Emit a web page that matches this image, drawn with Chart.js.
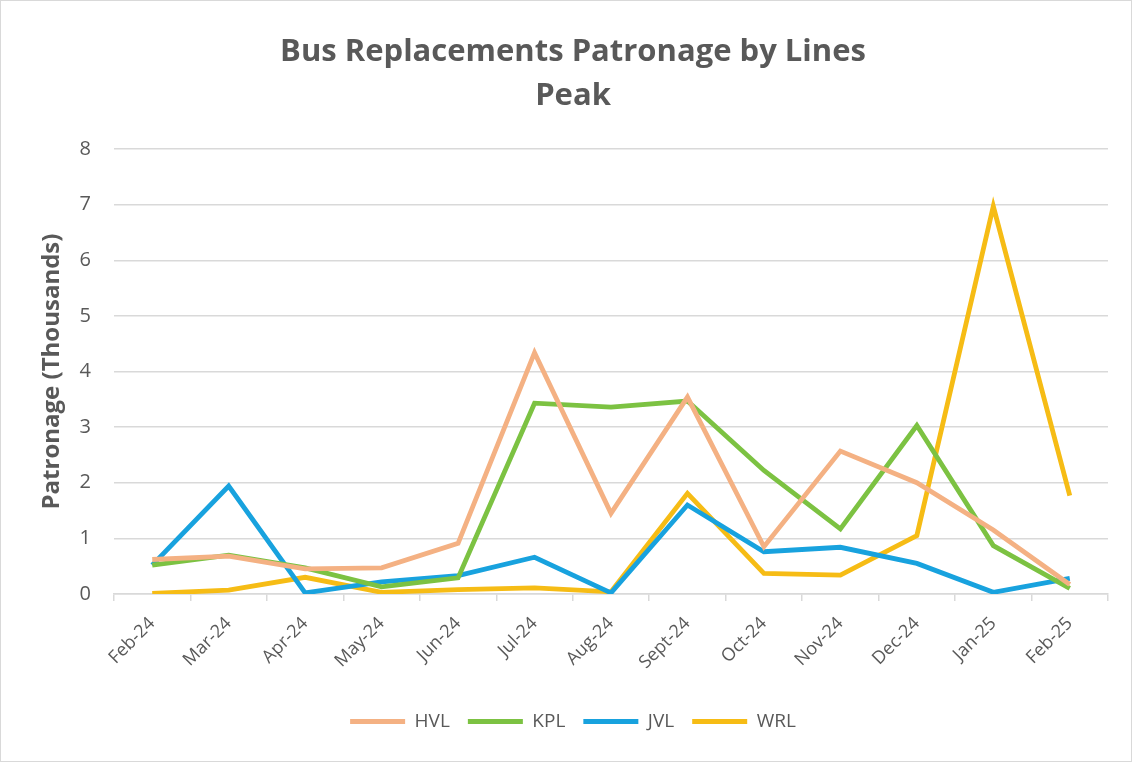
<!DOCTYPE html>
<html>
<head>
<meta charset="utf-8">
<script src="https://cdn.jsdelivr.net/npm/chart.js@4"></script>
<style>
  body { margin: 0; background: #fff; }
  #wrap { width: 1132px; height: 762px; box-sizing: border-box; border: 1px solid #d9d9d9; }
</style>
</head>
<body>
<div id="wrap"><canvas id="myChart"></canvas></div>
<script>
var months = ['Feb-24', 'Mar-24', 'Apr-24', 'May-24', 'Jun-24', 'Jul-24', 'Aug-24',
              'Sept-24', 'Oct-24', 'Nov-24', 'Dec-24', 'Jan-25', 'Feb-25'];
var hvl = [0.62, 0.68, 0.45, 0.47, 0.91, 4.34, 1.45, 3.54, 0.85, 2.57, 2.0, 1.15, 0.17];
var kpl = [0.52, 0.7, 0.47, 0.13, 0.29, 3.43, 3.36, 3.47, 2.22, 1.17, 3.03, 0.87, 0.1];
var jvl = [0.52, 1.94, 0.02, 0.22, 0.33, 0.66, 0.02, 1.6, 0.76, 0.84, 0.55, 0.03, 0.28];
var wrl = [0.01, 0.07, 0.3, 0.03, 0.08, 0.11, 0.04, 1.81, 0.37, 0.34, 1.05, 6.97, 1.77];
var yTicks = [0, 1, 2, 3, 4, 5, 6, 7, 8];

var textGray = '#595959';
var gridGray = '#d9d9d9';
var fontName = 'Open Sans';

function line(label, data, color) {
  return {
    label: label,
    data: data,
    borderColor: color,
    backgroundColor: color,
    borderWidth: 4.8,
    pointRadius: 0,
    tension: 0
  };
}

var ctx = document.getElementById('myChart').getContext('2d');
var myChart = new Chart(ctx, {
  type: 'line',
  data: {
    labels: months,
    datasets: [
      line('HVL', hvl, '#f4b183'),
      line('KPL', kpl, '#7cc242'),
      line('JVL', jvl, '#18a2de'),
      line('WRL', wrl, '#f6bc15')
    ]
  },
  options: {
    responsive: true,
    maintainAspectRatio: false,
    animation: false,
    layout: { padding: { left: 37, right: 23, top: 0, bottom: 20 } },
    plugins: {
      title: {
        display: true,
        text: ['Bus Replacements Patronage by Lines', 'Peak'],
        color: textGray,
        font: { family: fontName, size: 31, weight: 'bold', lineHeight: 1.42 },
        padding: { top: 29, bottom: 31 }
      },
      legend: {
        position: 'bottom',
        labels: {
          color: textGray,
          font: { family: fontName, size: 19 },
          boxWidth: 55,
          boxHeight: 5,
          padding: 18,
          generateLabels: function (chart) {
            var items = Chart.defaults.plugins.legend.labels.generateLabels(chart);
            items.forEach(function (it) { it.lineWidth = 0; });
            return items;
          }
        }
      },
      tooltip: { enabled: false }
    },
    scales: {
      x: {
        offset: true,
        grid: { drawOnChartArea: false, offset: true, tickLength: 7, color: gridGray, lineWidth: 1.5 },
        border: { color: gridGray, width: 1.5 },
        ticks: {
          color: textGray,
          font: { family: fontName, size: 18 },
          minRotation: 45,
          maxRotation: 45,
          padding: 12
        },
        afterFit: function (scale) { scale.height = 100; }
      },
      y: {
        min: 0,
        max: 8,
        afterBuildTicks: function (scale) {
          scale.ticks = yTicks.map(function (v) { return { value: v }; });
        },
        grid: { color: gridGray, lineWidth: 1.5, drawTicks: false },
        border: { display: false },
        ticks: {
          color: textGray,
          font: { family: fontName, size: 20 },
          padding: 23
        },
        title: {
          display: true,
          text: 'Patronage (Thousands)',
          color: textGray,
          font: { family: fontName, size: 24, weight: 'bold' },
          padding: { top: 0, bottom: 0 }
        },
        afterFit: function (scale) { scale.width = 76; }
      }
    }
  }
});
</script>
</body>
</html>
